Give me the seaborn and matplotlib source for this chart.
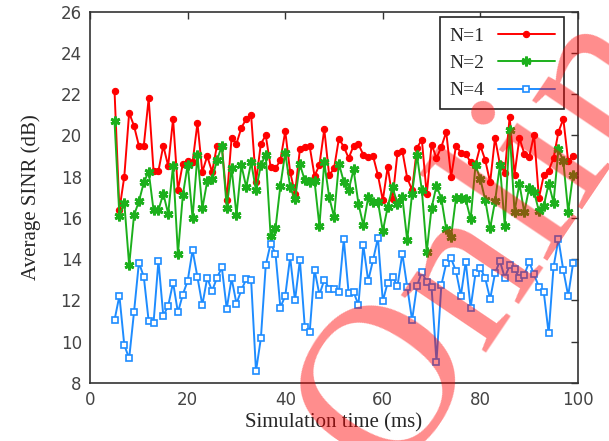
import numpy as np
import pandas as pd
import matplotlib
matplotlib.use("Agg")
import matplotlib.pyplot as plt
import seaborn as sns

# ---- data ----
time_ms = list(range(5, 100))

sinr_n1 = [22.16, 16.4, 18.0, 21.1, 20.46, 19.5, 19.5, 21.8, 18.28, 18.28,
           19.5, 18.52, 20.8, 17.35, 18.64, 18.77, 18.7, 20.6, 18.23, 19.0,
           18.23, 19.5, 19.5, 16.86, 19.9, 19.6, 20.37, 20.8, 20.98, 17.75,
           19.6, 20.0, 18.48, 18.4, 18.8, 20.2, 18.23, 17.18, 19.33, 19.45,
           19.48, 18.04, 18.56, 20.3, 18.07, 18.4, 19.85, 19.45, 18.9, 19.5,
           19.57, 19.07, 18.95, 19.0, 18.07, 16.86, 18.48, 16.94, 19.15, 19.25,
           17.94, 17.35, 19.4, 19.8, 17.14, 19.56, 18.9, 19.45, 20.17, 17.99,
           19.5, 19.17, 19.12, 18.69, 18.59, 19.5, 18.8, 17.72, 19.88, 18.6,
           18.2, 20.9, 18.1, 19.88, 19.12, 18.95, 20.04, 16.97, 18.07, 18.3,
           18.9, 20.17, 20.8, 18.75, 19.0]

sinr_n2 = [20.7, 16.1, 16.75, 13.71, 16.14, 16.8, 17.72, 18.25, 16.38, 16.38,
           17.18, 16.2, 18.54, 14.25, 17.1, 18.59, 16.0, 19.04, 16.46, 17.78,
           17.9, 18.8, 19.5, 16.5, 18.43, 16.14, 18.56, 17.5, 18.7, 17.35,
           18.56, 19.07, 15.13, 15.5, 17.56, 19.17, 17.5, 16.9, 18.6, 17.83,
           17.75, 17.78, 15.62, 18.69, 17.02, 16.05, 18.64, 17.75, 17.35, 18.35,
           16.7, 15.65, 17.0, 16.78, 16.78, 15.36, 16.54, 17.5, 16.68, 17.0,
           14.92, 17.18, 19.04, 17.35, 14.36, 16.5, 17.56, 16.94, 15.45, 15.1,
           16.97, 16.97, 16.9, 15.94, 18.56, 17.88, 16.86, 15.5, 16.8, 18.56,
           15.62, 20.25, 16.3, 17.67, 16.27, 17.46, 17.27, 16.33, 16.59, 17.67,
           16.75, 19.33, 18.75, 16.3, 18.1]

sinr_n4 = [11.05, 12.23, 9.84, 9.19, 11.45, 13.84, 13.15, 11.0, 10.92, 13.92,
           11.26, 11.74, 12.87, 11.42, 12.29, 12.96, 14.44, 13.13, 11.78, 13.1,
           12.46, 13.1, 13.6, 11.6, 13.07, 11.85, 12.5, 13.04, 13.0, 8.58,
           10.16, 13.71, 14.76, 14.27, 11.66, 12.23, 14.1, 12.0, 13.96, 10.73,
           10.45, 13.5, 12.28, 13.0, 12.58, 12.58, 12.42, 14.96, 12.34, 12.42,
           11.78, 14.68, 12.96, 13.96, 15.04, 11.97, 12.87, 13.15, 12.7, 14.27,
           12.66, 11.05, 12.7, 13.38, 12.9, 12.63, 9.03, 12.75, 13.8, 14.04,
           13.42, 12.23, 13.88, 11.65, 13.31, 13.59, 13.07, 12.07, 13.31, 13.92,
           13.1, 13.71, 13.52, 13.1, 13.23, 13.88, 13.26, 12.66, 12.39, 10.4,
           13.63, 14.97, 13.47, 12.23, 13.8]

series_labels = ["N=1", "N=2", "N=4"]
x_ticks = [0, 20, 40, 60, 80, 100]
y_ticks = [8, 10, 12, 14, 16, 18, 20, 22, 24, 26]

# ---- style ----
sns.set_style("white")
plt.rcParams["font.family"] = ["DejaVu Sans"]
serif = "Liberation Serif"

fig = plt.figure(figsize=(6.09, 4.41), dpi=100)
ax = fig.add_axes([0.148, 0.1315, 0.801, 0.842])

styles = [
    dict(color="#ff0000", marker="o", markersize=4.5, markeredgewidth=0.8,
         markerfacecolor="#ff0000", markeredgecolor="#ff0000"),
    dict(color="#1cb01c", marker=(6, 2, 0), markersize=7, markeredgewidth=2.0,
         markeredgecolor="#1cb01c"),
    dict(color="#1e8cff", marker="s", markersize=4.5, markeredgewidth=1.2,
         markerfacecolor="white", markeredgecolor="#1e8cff"),
]

for vals, lab, st in zip([sinr_n1, sinr_n2, sinr_n4], series_labels, styles):
    df = pd.DataFrame({"t": time_ms, "v": vals})
    sns.lineplot(data=df, x="t", y="v", ax=ax, label=lab, linewidth=1.4, **st)

ax.set_xlim(0, 100)
ax.set_ylim(8, 26)
ax.set_xticks(x_ticks)
ax.set_yticks(y_ticks)
ax.tick_params(direction="in", length=5, width=1, top=True, right=True,
               labelsize=12, labelcolor="#444444", color="#333333", pad=6)
for s in ax.spines.values():
    s.set_color("#333333")
    s.set_linewidth(1.2)

ax.set_xlabel("Simulation time (ms)", fontsize=15, family=serif, labelpad=3)
ax.set_ylabel("Average SINR (dB)", fontsize=15, family=serif, labelpad=14)

leg = ax.legend(loc="upper right", bbox_to_anchor=(0.98, 0.995), markerfirst=False,
                frameon=True, fancybox=False, edgecolor="#222222", framealpha=1,
                prop={"family": serif, "size": 14}, handlelength=2.9,
                labelspacing=0.5, borderpad=0.5, handletextpad=0.7,
                borderaxespad=0.2)
leg.get_frame().set_linewidth(1.2)

# watermark
fig.text(0.64, -0.09, "Online", rotation=56, rotation_mode="anchor",
         ha="left", va="baseline", fontsize=160, family=serif,
         color="#ff0000", alpha=0.45, zorder=10)

fig.savefig("out.png", dpi=100)
